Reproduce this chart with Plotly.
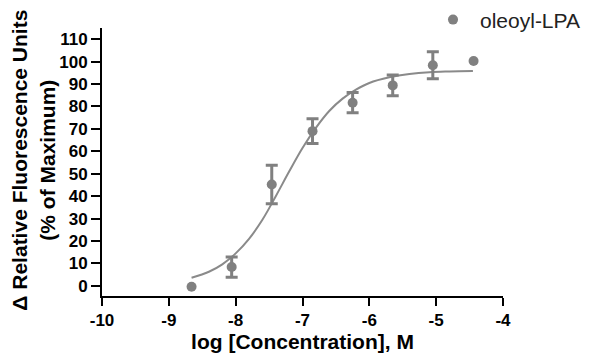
import plotly.graph_objects as go

# Data
log_conc = [-8.66, -8.06, -7.46, -6.85, -6.25, -5.65, -5.05, -4.44]
response = [-0.4, 8.4, 45.2, 69.0, 81.7, 89.4, 98.4, 100.3]
sem = [None, 4.5, 8.6, 5.5, 4.5, 4.6, 6.0, None]

# Fitted curve
fit_x = [-8.66, -8.4, -8.2, -8.0, -7.8, -7.6, -7.4, -7.2, -7.0, -6.8, -6.6,
         -6.4, -6.2, -6.0, -5.7, -5.4, -5.1, -4.8, -4.45]
fit_y = [3.6, 6.3, 9.6, 14.5, 21.0, 29.5, 40.0, 51.0, 61.5, 70.5, 78.0,
         83.5, 87.5, 90.5, 93.0, 94.5, 95.3, 95.6, 95.8]

x_ticks = [-10, -9, -8, -7, -6, -5, -4]
x_tick_labels = ["-10", "-9", "-8", "-7", "-6", "-5", "-4"]
y_ticks = [0, 10, 20, 30, 40, 50, 60, 70, 80, 90, 100, 110]
y_tick_labels = [str(v) for v in y_ticks]

series_name = "oleoyl-LPA"
x_title = "log [Concentration], M"
y_title = "\u0394 Relative Fluorescence Units<br>(% of Maximum)"

FONT = "Arial, 'Liberation Sans', sans-serif"
GREY = "#808080"

# points with / without an error bar
with_err = [i for i, e in enumerate(sem) if e is not None]
no_err = [i for i, e in enumerate(sem) if e is None]

fig = go.Figure()
fig.add_trace(go.Scatter(
    x=fit_x, y=fit_y, mode="lines", line=dict(color="#8a8a8a", width=2, shape="spline"),
    showlegend=False, hoverinfo="skip"))
fig.add_trace(go.Scatter(
    x=[log_conc[i] for i in with_err], y=[response[i] for i in with_err],
    mode="markers", name=series_name, legendgroup="lpa",
    marker=dict(color=GREY, size=10),
    error_y=dict(type="data", array=[sem[i] for i in with_err], visible=True,
                 color=GREY, thickness=3, width=6)))
fig.add_trace(go.Scatter(
    x=[log_conc[i] for i in no_err], y=[response[i] for i in no_err],
    mode="markers", name=series_name, legendgroup="lpa", showlegend=False,
    marker=dict(color=GREY, size=10)))

# the page body adds an 8px offset, so margins are shifted to compensate
fig.update_layout(
    width=598, height=360,
    margin=dict(l=94, r=103, t=20, b=72, autoexpand=False),
    paper_bgcolor="white", plot_bgcolor="white",
    font=dict(family=FONT, color="black"),
    showlegend=True,
    legend=dict(x=0.808, y=1.03, xanchor="left", yanchor="middle", itemwidth=44,
                font=dict(family=FONT, size=21, color="#222222"),
                bgcolor="rgba(0,0,0,0)"),
    xaxis=dict(range=[-10, -4], tickvals=x_ticks, ticktext=x_tick_labels,
               showgrid=False, zeroline=False, showline=True, linecolor="black", linewidth=2,
               ticks="outside", ticklen=8, tickwidth=2, tickcolor="black",
               tickfont=dict(family=FONT, size=17, color="black", weight="bold"),
               title=dict(text=x_title, font=dict(family=FONT, size=21, color="black", weight="bold"),
                          standoff=2)),
    yaxis=dict(range=[-4.5, 115], tickvals=y_ticks, ticktext=y_tick_labels,
               showgrid=False, zeroline=False, showline=True, linecolor="black", linewidth=2,
               ticks="outside", ticklen=9, tickwidth=2, tickcolor="black",
               tickfont=dict(family=FONT, size=17, color="black", weight="bold")),
    annotations=[dict(text=y_title, xref="paper", yref="paper", x=0, xshift=-69, y=0.505,
                      xanchor="center", yanchor="middle", textangle=-90, showarrow=False,
                      font=dict(family=FONT, size=21, color="black", weight="bold"))],
)

fig.write_html("out.html")
